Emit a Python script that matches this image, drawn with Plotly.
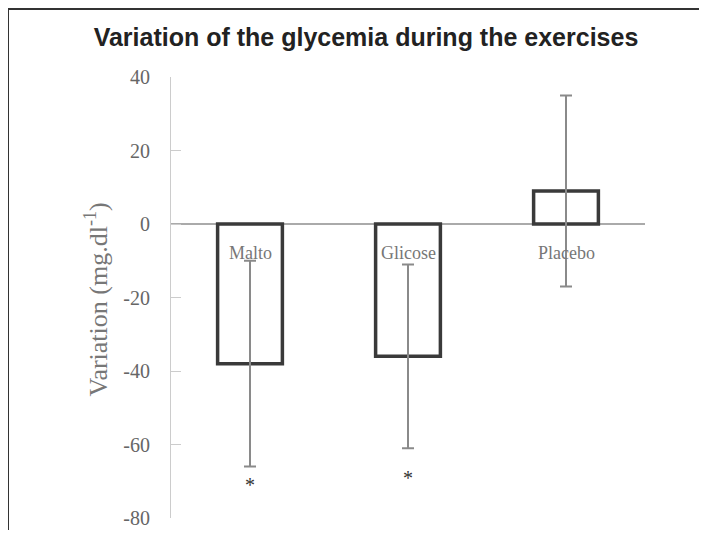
import plotly.graph_objects as go

categories = ["Malto", "Glicose", "Placebo"]
means = [-38, -36, 9]
errors = [28, 25, 26]
star_y = [-71, -69]
y_ticks = [40, 20, 0, -20, -40, -60, -80]

x_pos = list(range(len(categories)))

W, H = 691, 522
L, R, T, B = 163, 54, 69, 12
PW, PH = W - L - R, H - T - B

fig = go.Figure()
fig.add_trace(go.Bar(
    x=x_pos, y=means, width=0.41,
    marker=dict(color="white", line=dict(color="#3a3a3a", width=3.5)),
    error_y=dict(type="data", array=errors, visible=True, color="#8a8a8a",
                 thickness=2, width=6),
    showlegend=False, hoverinfo="skip",
))

annotations = []
for i, c in enumerate(categories):
    annotations.append(dict(x=i, y=-8, xref="x", yref="y", text=c, showarrow=False,
                            font=dict(family="Liberation Serif", size=18, color="#777")))
for i, sy in enumerate(star_y):
    annotations.append(dict(x=i, y=sy, xref="x", yref="y", text="*", showarrow=False,
                            font=dict(family="Liberation Serif", size=20, color="#333")))
annotations.append(dict(x=(70 - L) / PW, y=(H - B - 292) / PH, xref="paper", yref="paper",
                        text="Variation (mg.dl<sup>-1</sup>)", textangle=-90,
                        showarrow=False,
                        font=dict(family="Liberation Serif", size=26, color="#777")))

fig.update_layout(
    width=W, height=H, autosize=False,
    margin=dict(l=L, r=R, t=T, b=B, autoexpand=False),
    paper_bgcolor="white", plot_bgcolor="white",
    title=dict(text="<b>Variation of the glycemia during the exercises</b>",
               x=358 / W, xref="container", xanchor="center", y=1 - 29 / H, yanchor="middle",
               font=dict(family="Liberation Sans", size=25, color="#222")),
    xaxis=dict(range=[-0.5, 2.5], showticklabels=False, showgrid=False,
               zeroline=False, showline=False, ticks="", automargin=False),
    yaxis=dict(range=[-80, 40], tickvals=y_ticks, ticktext=[str(t) for t in y_ticks],
               showgrid=False, zeroline=True, zerolinecolor="#aaa", zerolinewidth=1.5,
               showline=True, linecolor="#ccc", linewidth=1,
               ticks="inside", ticklen=10, tickcolor="#ccc", automargin=False,
               tickfont=dict(family="Liberation Serif", size=20, color="#666"),
               ticklabelstandoff=16),
    annotations=annotations,
    shapes=[
        dict(type="line", xref="paper", yref="paper", x0=(0 - L) / PW, x1=(W - L) / PW,
             y0=(H - B - 1) / PH, y1=(H - B - 1) / PH, line=dict(color="#333", width=2)),
        dict(type="line", xref="paper", yref="paper", x0=(0 - L) / PW, x1=(0 - L) / PW,
             y0=(H - B - 1) / PH, y1=-B / PH, line=dict(color="#333", width=2)),
    ],
)
fig.write_html("out.html")
